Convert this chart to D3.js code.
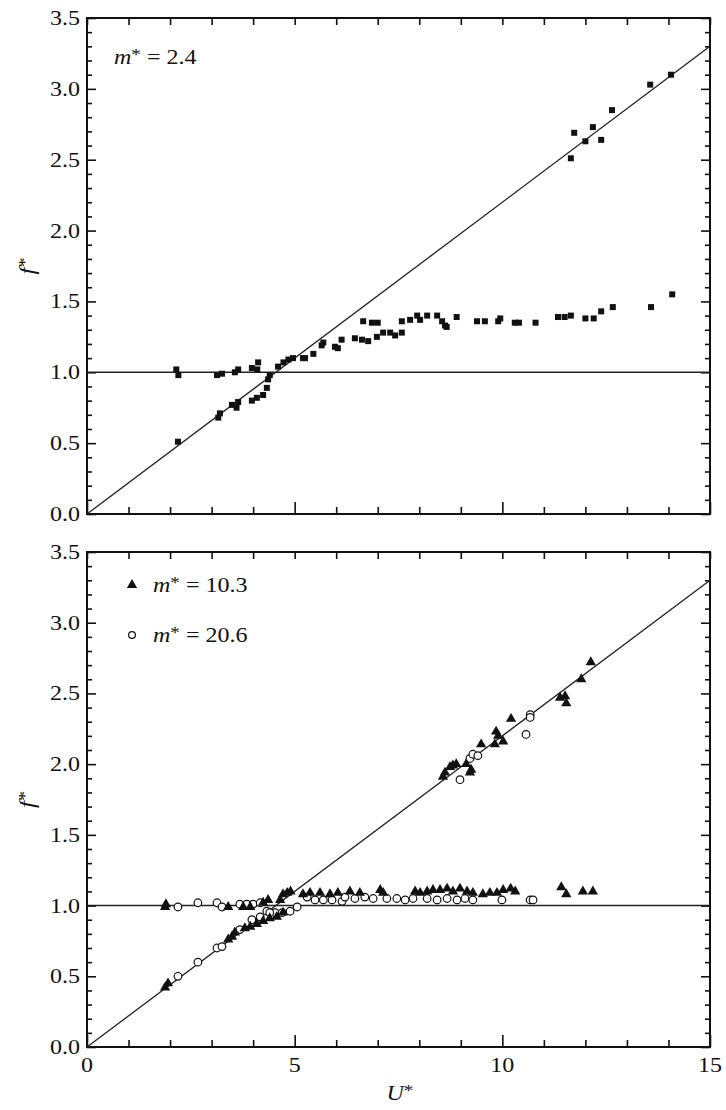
<!DOCTYPE html>
<html>
<head>
<meta charset="utf-8">
<script src="https://cdn.jsdelivr.net/npm/d3@7"></script>
<style>
  html, body { margin: 0; padding: 0; background: #fff; }
  svg { display: block; }
  text { font-family: "Liberation Serif", "Times New Roman", serif; fill: #111; }
</style>
</head>
<body>
<div id="chart"></div>
<script>
// m* = 2.4 (filled squares, top panel)
var u24 = [2.19, 3.16, 3.2, 3.49, 3.6, 3.64, 3.97, 4.09, 4.24, 4.33, 4.36, 4.4,
  2.15, 2.2, 3.13, 3.25, 3.56, 3.64, 3.97, 4.12, 4.1,
  4.6, 4.73, 4.85, 4.96, 5.2, 5.25, 5.45, 5.65, 5.69, 5.97, 6.04, 6.13, 6.45, 6.62, 6.77, 6.98, 7.13, 7.3, 7.42, 7.58,
  6.65, 6.86, 7.0, 7.58, 7.78, 7.95, 8.02, 8.19, 8.43, 8.55, 8.62, 8.66, 8.9, 9.39, 9.58, 9.9, 9.95, 10.3, 10.4, 10.8,
  11.34, 11.5, 11.65, 12.0, 12.2, 12.38, 12.66, 13.58, 14.09,
  11.65, 11.73, 12.0, 12.18, 12.38, 12.64, 13.56, 14.06];
var f24 = [0.51, 0.68, 0.71, 0.77, 0.75, 0.79, 0.80, 0.82, 0.84, 0.89, 0.95, 0.98,
  1.02, 0.98, 0.98, 0.99, 1.0, 1.02, 1.03, 1.07, 1.02,
  1.04, 1.07, 1.09, 1.10, 1.10, 1.10, 1.13, 1.19, 1.21, 1.18, 1.17, 1.23, 1.24, 1.23, 1.22, 1.25, 1.28, 1.28, 1.26, 1.28,
  1.36, 1.35, 1.35, 1.36, 1.37, 1.40, 1.37, 1.40, 1.40, 1.36, 1.33, 1.32, 1.39, 1.36, 1.36, 1.36, 1.38, 1.35, 1.35, 1.35,
  1.39, 1.39, 1.40, 1.38, 1.38, 1.43, 1.46, 1.46, 1.55,
  2.51, 2.69, 2.63, 2.73, 2.64, 2.85, 3.03, 3.10];

// m* = 10.3 (filled triangles, bottom panel)
var u103 = [1.88, 1.9, 3.4, 3.76, 3.93, 4.24, 4.36, 4.65, 4.72, 4.82, 4.9, 5.2, 5.37, 5.61, 5.85, 6.04, 6.33, 6.57,
  7.06, 7.13, 7.9, 8.02, 8.19, 8.33, 8.5, 8.67, 8.81, 8.98, 9.15, 9.29, 9.53, 9.7, 9.87, 10.02, 10.2, 10.31,
  11.42, 11.54, 11.94, 12.18,
  1.88, 1.95, 3.4, 3.49, 3.56, 3.8, 3.93, 4.09, 4.24, 4.4, 4.57, 4.72,
  8.57, 8.62, 8.74, 8.81, 8.89, 9.13, 9.22, 9.25, 9.49, 9.82, 9.85, 9.9, 10.02, 10.21, 11.39, 11.51, 11.54, 11.9, 12.13];
var f103 = [0.99, 1.01, 0.99, 0.99, 0.99, 1.02, 1.04, 1.04, 1.08, 1.09, 1.10, 1.08, 1.09, 1.09, 1.08, 1.09, 1.10, 1.09,
  1.11, 1.09, 1.10, 1.09, 1.10, 1.11, 1.11, 1.12, 1.10, 1.12, 1.10, 1.09, 1.08, 1.09, 1.09, 1.11, 1.12, 1.10,
  1.13, 1.08, 1.10, 1.10,
  0.42, 0.45, 0.76, 0.78, 0.81, 0.84, 0.85, 0.87, 0.89, 0.91, 0.92, 0.95,
  1.91, 1.94, 1.98, 1.99, 2.0, 2.0, 1.94, 1.96, 2.14, 2.14, 2.23, 2.20, 2.16, 2.32, 2.47, 2.48, 2.43, 2.60, 2.72];

// m* = 20.6 (open circles, bottom panel)
var u206 = [2.19, 2.67, 3.13, 3.25, 3.68, 3.85, 4.0, 4.17,
  4.33, 4.53, 4.7, 4.89, 5.06,
  5.3, 5.49, 5.69, 5.9, 6.14, 6.21, 6.45, 6.69, 6.89, 7.22, 7.46, 7.66, 7.85, 8.19, 8.43, 8.67, 8.91, 9.1, 9.29, 9.99, 10.67, 10.74,
  2.19, 2.67, 3.13, 3.25, 3.68, 3.97, 4.17, 4.4,
  8.98, 9.22, 9.29, 9.41, 10.57, 10.67, 10.67];
var f206 = [0.99, 1.02, 1.02, 0.99, 1.01, 1.01, 1.01, 1.02,
  0.96, 0.95, 0.95, 0.96, 0.99,
  1.06, 1.04, 1.04, 1.04, 1.03, 1.06, 1.05, 1.06, 1.05, 1.05, 1.05, 1.04, 1.05, 1.05, 1.04, 1.05, 1.04, 1.05, 1.04, 1.04, 1.04, 1.04,
  0.50, 0.60, 0.70, 0.71, 0.83, 0.90, 0.92, 0.95,
  1.89, 2.04, 2.07, 2.06, 2.21, 2.35, 2.33];

// reference lines: the diagonal and f* = 1
var diagU = [0, 15];
var diagF = [0, 3.3];
var unitF = 1.0;

var xTicks = [0, 5, 10, 15];
var yTicks = [0, 0.5, 1.0, 1.5, 2.0, 2.5, 3.0, 3.5];

var W = 726, H = 1110;
var stretch = 1.2;   // glyphs in the original are a bit wide

var svg = d3.select('#chart').append('svg')
  .attr('width', W)
  .attr('height', H);

var x = d3.scaleLinear().domain([0, 15]).range([87, 710]);

var panels = [
  { top: 18, bottom: 514, xLabels: false },
  { top: 552, bottom: 1047, xLabels: true }
];

function label(g, px, py, anchor, size, parts) {
  var t = g.append('text')
    .attr('transform', 'translate(' + px + ',' + py + ') scale(' + stretch + ',1)')
    .attr('text-anchor', anchor)
    .style('font-size', size + 'px');
  parts.forEach(function(p) {
    var s = t.append('tspan')
      .style('font-style', p.italic ? 'italic' : 'normal')
      .text(p.t);
    if (p.sup) s.attr('dy', -4).style('font-size', (size * 0.8) + 'px');
    if (p.down) s.attr('dy', 4);
  });
  return t;
}

function mStar(g, px, py, val) {
  return label(g, px, py, 'start', 20, [
    { t: 'm', italic: true },
    { t: '*', sup: true },
    { t: ' = ' + val, down: true }
  ]);
}

panels.forEach(function(p) {
  var y = d3.scaleLinear().domain([0, 3.5]).range([p.bottom, p.top]);
  p.y = y;
  var g = svg.append('g');
  p.g = g;

  var minorY = d3.range(0, 36).map(function(d) { return d / 10; })
    .filter(function(d) { return Math.round(d * 10) % 5 !== 0; });
  var minorX = d3.range(0, 16).filter(function(d) { return d % 5 !== 0; });

  // tick marks, all pointing inward
  var axes = [
    [d3.axisLeft(y).tickValues(yTicks).tickSize(-9), 87, 0],
    [d3.axisLeft(y).tickValues(minorY).tickSize(-5), 87, 0],
    [d3.axisRight(y).tickValues(yTicks).tickSize(-9), 710, 0],
    [d3.axisRight(y).tickValues(minorY).tickSize(-5), 710, 0],
    [d3.axisBottom(x).tickValues(xTicks).tickSize(-12), 0, p.bottom],
    [d3.axisBottom(x).tickValues(minorX).tickSize(-7), 0, p.bottom],
    [d3.axisTop(x).tickValues(d3.range(0, 16)).tickSize(-7), 0, p.top]
  ];
  axes.forEach(function(a) {
    var ag = g.append('g')
      .attr('transform', 'translate(' + a[1] + ',' + a[2] + ')')
      .call(a[0].tickFormat('').tickSizeOuter(0));
    ag.select('.domain').remove();
    ag.selectAll('line').attr('stroke', '#111').attr('stroke-width', 1.6);
  });

  // frame
  g.append('rect')
    .attr('x', 87).attr('y', p.top)
    .attr('width', 710 - 87).attr('height', p.bottom - p.top)
    .attr('fill', 'none').attr('stroke', '#111').attr('stroke-width', 2);

  // y tick labels
  yTicks.forEach(function(v) {
    label(g, 80, y(v) + 7, 'end', 20, [{ t: d3.format('.1f')(v) }]);
  });

  // x tick labels
  if (p.xLabels) {
    xTicks.forEach(function(v) {
      label(g, x(v), p.bottom + 25, 'middle', 20, [{ t: String(v) }]);
    });
    label(g, 400, 1100, 'middle', 20, [{ t: 'U', italic: true }, { t: '*', sup: true }]);
  }

  // y axis label, rotated
  g.append('text')
    .attr('transform', 'translate(34,' + ((p.top + p.bottom) / 2) + ') rotate(-90) scale(' + stretch + ',1)')
    .attr('text-anchor', 'middle')
    .style('font-size', '21px')
    .call(function(t) {
      t.append('tspan').style('font-style', 'italic').text('f');
      t.append('tspan').attr('dy', -4).style('font-size', '17px').text('*');
    });

  // reference lines
  var line = d3.line()
    .x(function(d) { return x(d[0]); })
    .y(function(d) { return y(d[1]); });
  g.append('path')
    .attr('d', line(diagU.map(function(u, i) { return [u, diagF[i]]; })))
    .attr('fill', 'none').attr('stroke', '#222').attr('stroke-width', 1.3);
  g.append('path')
    .attr('d', line([[0, unitF], [15, unitF]]))
    .attr('fill', 'none').attr('stroke', '#222').attr('stroke-width', 1.5);
});

// top panel: squares
var topP = panels[0];
topP.g.selectAll('rect.pt')
  .data(u24.map(function(u, i) { return [u, f24[i]]; }))
  .enter().append('rect')
  .attr('class', 'pt')
  .attr('x', function(d) { return x(d[0]) - 3; })
  .attr('y', function(d) { return topP.y(d[1]) - 3; })
  .attr('width', 6).attr('height', 6)
  .attr('fill', '#111');
mStar(topP.g, 114, 64, '2.4');

// bottom panel: triangles + circles
var botP = panels[1];
var tri = d3.symbol().type(d3.symbolTriangle).size(46);
botP.g.selectAll('circle.pt')
  .data(u206.map(function(u, i) { return [u, f206[i]]; }))
  .enter().append('circle')
  .attr('class', 'pt')
  .attr('cx', function(d) { return x(d[0]); })
  .attr('cy', function(d) { return botP.y(d[1]); })
  .attr('r', 3.8)
  .attr('fill', '#fff').attr('stroke', '#111').attr('stroke-width', 1.2);
botP.g.selectAll('path.pt')
  .data(u103.map(function(u, i) { return [u, f103[i]]; }))
  .enter().append('path')
  .attr('class', 'pt')
  .attr('d', tri)
  .attr('transform', function(d) { return 'translate(' + x(d[0]) + ',' + botP.y(d[1]) + ')'; })
  .attr('fill', '#111');

// legend
botP.g.append('path').attr('d', tri).attr('transform', 'translate(132,585)').attr('fill', '#111');
mStar(botP.g, 153, 592, '10.3');
botP.g.append('circle').attr('cx', 132).attr('cy', 635).attr('r', 3.4)
  .attr('fill', '#fff').attr('stroke', '#111').attr('stroke-width', 1.2);
mStar(botP.g, 153, 642, '20.6');
</script>
</body>
</html>
